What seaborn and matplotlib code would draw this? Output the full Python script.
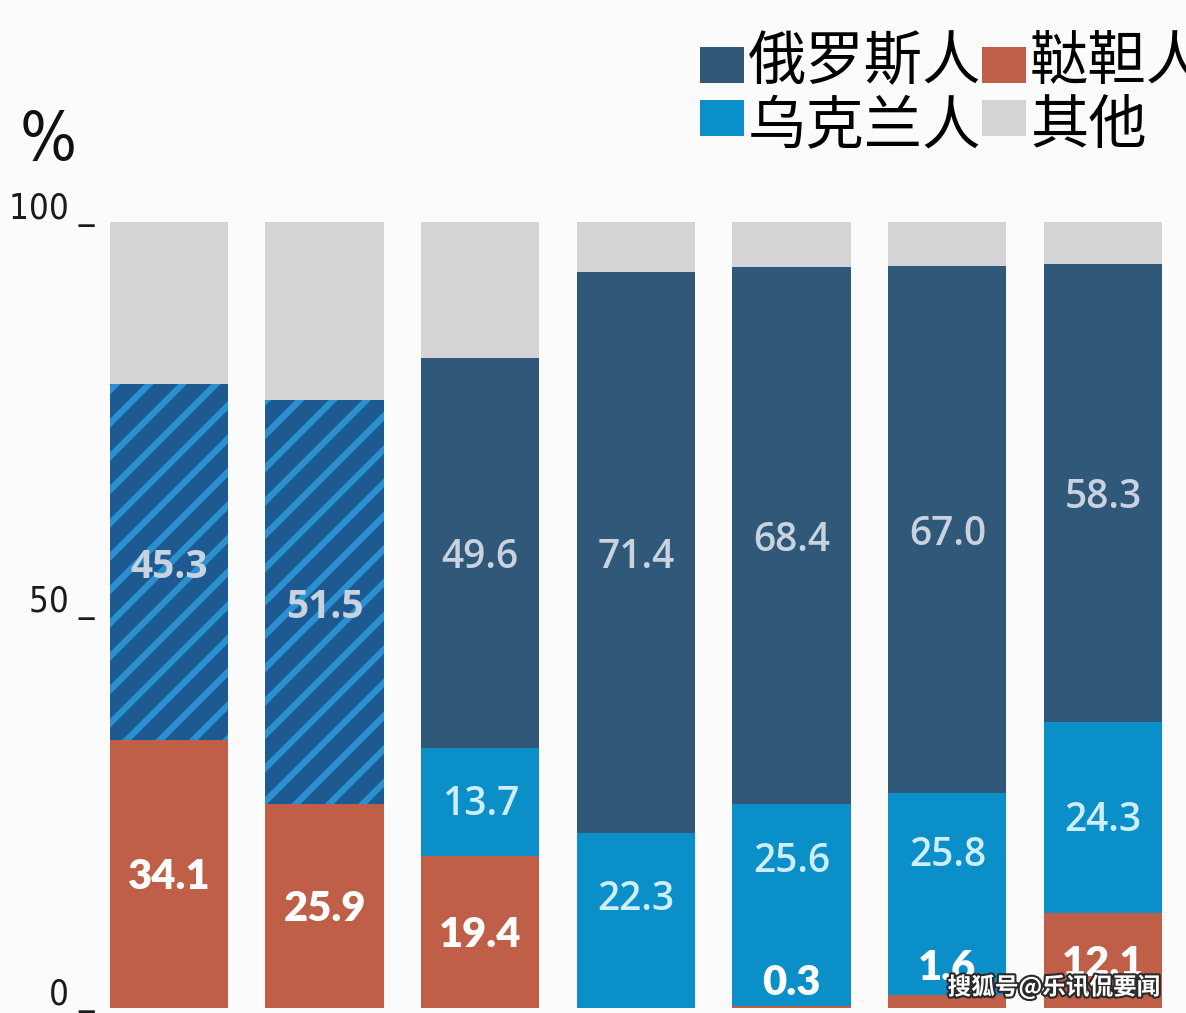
import numpy as np
import pandas as pd
import matplotlib
matplotlib.use("Agg")
import matplotlib.pyplot as plt
import matplotlib.patheffects as pe
import matplotlib.transforms as mtransforms
from matplotlib.patches import Rectangle
import seaborn as sns

# ---------------- data ----------------
bars = ["b1", "b2", "b3", "b4", "b5", "b6", "b7"]
tatar = [34.1, 25.9, 19.4, 0.0, 0.3, 1.6, 12.1]
ukrainian = [0.0, 0.0, 13.7, 22.3, 25.6, 25.8, 24.3]
russian = [0.0, 0.0, 49.6, 71.4, 68.4, 67.0, 58.3]
rus_ukr_combined = [45.3, 51.5, 0.0, 0.0, 0.0, 0.0, 0.0]   # hatched segments
other = [20.6, 22.6, 17.3, 6.3, 5.7, 5.6, 5.3]

legend_labels = ["俄罗斯人", "鞑靼人", "乌克兰人", "其他"]
ytick_values = [0, 50, 100]
ytick_labels = ["0 _", "50 _", "100 _"]
watermark = "搜狐号@乐讯侃要闻"

# ---------------- style ----------------
C_RUS = "#2f5879"
C_TAT = "#c05f48"
C_UKR = "#0b8fc8"
C_OTH = "#d4d4d6"
C_HATCH_BG = "#1e5a92"
C_HATCH_FG = "#2b8fd0"
BG = "#fcfbfc"

sns.set_theme(style="white")
plt.rcParams["font.family"] = ["Noto Sans CJK SC", "DejaVu Sans"]
plt.rcParams["hatch.linewidth"] = 4.6

W, H = 1186, 1013
fig = plt.figure(figsize=(W / 100, H / 100), dpi=100, facecolor=BG)
ax = fig.add_axes([95.8 / W, 5 / H, 1089.7 / W, 786 / H])
ax.set_facecolor(BG)

t = np.array(tatar)
u = np.array(ukrainian)
r = np.array(russian)
h = np.array(rus_ukr_combined)
o = np.array(other)

cum_tat = t
cum_ukr = t + u
cum_top = t + u + r + h
cum_all = cum_top + o

df = pd.DataFrame({
    "bar": bars,
    "all": cum_all,
    "hatch": np.where(h > 0, cum_top, 0.0),
    "rus": np.where(r > 0, cum_top, 0.0),
    "ukr": cum_ukr,
    "tat": cum_tat,
})

bw = 0.76
common = dict(x="bar", order=bars, width=bw, saturation=1, ax=ax, errorbar=None)
sns.barplot(data=df, y="all", color=C_OTH, linewidth=0, **common)
sns.barplot(data=df, y="hatch", color=C_HATCH_BG, edgecolor=C_HATCH_FG,
            hatch="/", linewidth=0, **common)
sns.barplot(data=df, y="rus", color=C_RUS, linewidth=0, **common)
sns.barplot(data=df, y="ukr", color=C_UKR, linewidth=0, **common)
sns.barplot(data=df, y="tat", color=C_TAT, linewidth=0, **common)

ax.set_xlim(-0.47, 6.53)
ax.set_ylim(0, 100)
for s in ax.spines.values():
    s.set_visible(False)
ax.set_xlabel("")
ax.set_ylabel("")
ax.set_xticks([])
ax.set_yticks([])
ax.grid(False)

# y-axis labels placed at their data values (baseline slightly above value)
ylab_tr = mtransforms.offset_copy(
    mtransforms.blended_transform_factory(ax.transAxes, ax.transData),
    fig=fig, x=-1, y=3, units="dots")
for v, lab in zip(ytick_values, ytick_labels):
    ax.text(0, v, lab, transform=ylab_tr, ha="right", va="baseline",
            fontsize=25, fontstretch="condensed", fontweight="light",
            family=["Liberation Sans Narrow", "DejaVu Sans"], color="#1a1a1a",
            clip_on=False)

# ---------------- value labels ----------------
num_font = ["Open Sans", "DejaVu Sans"]
for i in range(len(bars)):
    # tatar
    if t[i] > 0:
        y = max(t[i] / 2, 3.6 if t[i] < 1 else 5.5)
        ax.text(i, y - 0.4, f"{t[i]:.1f}", ha="center", va="center", color="white",
                fontsize=30, fontweight="heavy", family=["Lato", "DejaVu Sans"])
    # ukrainian
    if u[i] > 0:
        lo = 12.0 if 0 < t[i] < 6 else max(t[i], 6.0)
        y = (lo + cum_ukr[i]) / 2
        ax.text(i, y - 0.4, f"{u[i]:.1f}", ha="center", va="center", color="#cdeefa",
                fontsize=28, fontweight="semibold", family=num_font)
    # russian
    if r[i] > 0:
        y = (cum_ukr[i] + cum_top[i]) / 2
        ax.text(i, y - 0.7, f"{r[i]:.1f}", ha="center", va="center", color="#c9d3e0",
                fontsize=28, fontweight="semibold", family=num_font)
    # combined hatched
    if h[i] > 0:
        y = (t[i] + cum_top[i]) / 2
        ax.text(i, y - 0.7, f"{h[i]:.1f}", ha="center", va="center", color="#c9d3e0",
                fontsize=28, fontweight="bold", family=num_font)

# ---------------- percent sign ----------------
fig.text(20 / W, 1 - 141 / H, "%", ha="left", va="center", fontsize=48,
         family=["Liberation Sans Narrow", "DejaVu Sans"], fontstretch="condensed",
         color="#111111")

# ---------------- legend (manual) ----------------
leg_colors = [C_RUS, C_TAT, C_UKR, C_OTH]
sq_pos = [(700, 47), (982, 47), (700, 100), (982, 100)]
txt_pos = [(748, 63), (1030, 63), (748, 127), (1030, 127)]
for col, (sx, sy), (tx, ty), lab in zip(leg_colors, sq_pos, txt_pos, legend_labels):
    fig.add_artist(Rectangle((sx / W, 1 - (sy + 36) / H), 44 / W, 36 / H,
                             transform=fig.transFigure, facecolor=col, edgecolor="none"))
    fig.text(tx / W, 1 - ty / H, lab, ha="left", va="center", fontsize=42,
             color="#000000", fontweight="medium")

# ---------------- watermark ----------------
fig.text(1054 / W, 1 - 987 / H, watermark, ha="center", va="center", fontsize=17,
         color="white", fontweight="bold",
         path_effects=[pe.withStroke(linewidth=3, foreground="#2a2a2a")])

fig.savefig("out.png", dpi=100, facecolor=BG)
